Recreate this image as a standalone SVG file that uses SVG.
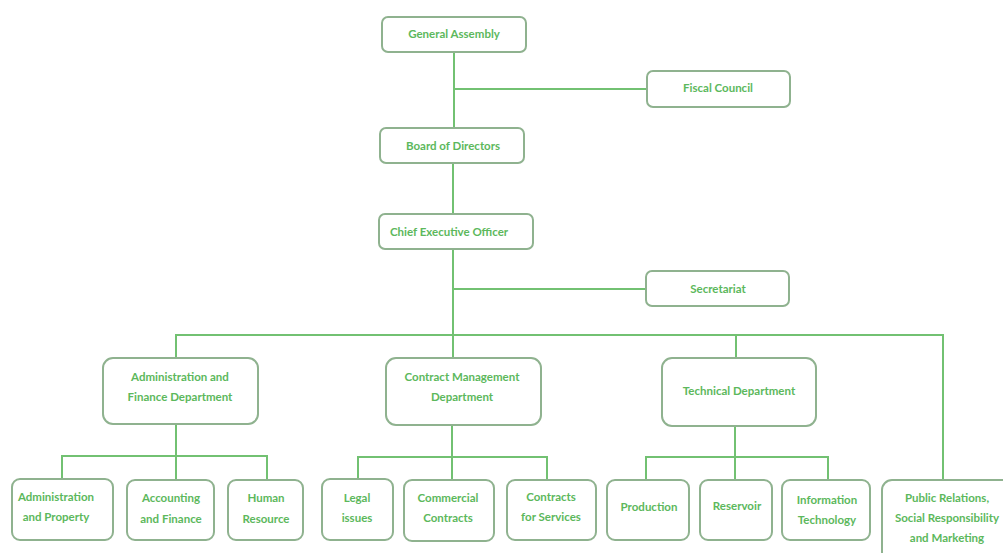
<svg xmlns="http://www.w3.org/2000/svg" width="1003" height="553" viewBox="0 0 1003 553">
<style>
.box{fill:#ffffff;stroke:#8fb28f;stroke-width:2}
.ln{fill:none;stroke:#72c172;stroke-width:2}
text{font-family:Lato,"Liberation Sans",sans-serif;font-weight:bold;font-size:11.5px;fill:#5cb85c;text-anchor:middle}
</style>
<rect width="1003" height="553" fill="#ffffff"/>
<g id="connectors">
<path class="ln" d="M454 52V128M454 89H647"/>
<path class="ln" d="M453 163V214"/>
<path class="ln" d="M453 249V358M453 289H646"/>
<path class="ln" d="M176 358V335H943V480M736 335V358"/>
<path class="ln" d="M176 424V456M62 479V456H267V480M176 456V480"/>
<path class="ln" d="M452 425V457M358 479V457H547V480M452 457V480"/>
<path class="ln" d="M735 426V457M646 480V457H828V480M735 457V480"/>
</g>
<g id="general-assembly"><rect class="box" x="382" y="17" width="144" height="35" rx="6"/><text x="454" y="38">General Assembly</text></g>
<g id="fiscal-council"><rect class="box" x="647" y="71" width="143" height="36" rx="6"/><text x="718" y="92">Fiscal Council</text></g>
<g id="board-of-directors"><rect class="box" x="380" y="128" width="144" height="35" rx="6"/><text x="453" y="150">Board of Directors</text></g>
<g id="ceo"><rect class="box" x="379" y="214" width="154" height="35" rx="6"/><text x="449" y="236">Chief Executive Officer</text></g>
<g id="secretariat"><rect class="box" x="646" y="271" width="143" height="35" rx="6"/><text x="718" y="293">Secretariat</text></g>
<g id="admin-finance-dept"><rect class="box" x="103" y="358" width="155" height="66" rx="10"/><text x="180" y="381">Administration and</text><text x="180" y="401">Finance Department</text></g>
<g id="contract-mgmt-dept"><rect class="box" x="386" y="358" width="155" height="67" rx="10"/><text x="462" y="381">Contract Management</text><text x="462" y="401">Department</text></g>
<g id="technical-dept"><rect class="box" x="662" y="358" width="154" height="68" rx="10"/><text x="739" y="395">Technical Department</text></g>
<g id="admin-property"><rect class="box" x="12" y="479" width="101" height="61" rx="8"/><text x="56" y="501">Administration</text><text x="56" y="521">and Property</text></g>
<g id="accounting-finance"><rect class="box" x="127" y="480" width="87" height="60" rx="8"/><text x="171" y="502">Accounting</text><text x="171" y="523">and Finance</text></g>
<g id="human-resource"><rect class="box" x="228" y="480" width="75" height="60" rx="8"/><text x="266" y="502">Human</text><text x="266" y="523">Resource</text></g>
<g id="legal-issues"><rect class="box" x="322" y="479" width="71" height="61" rx="8"/><text x="357" y="502">Legal</text><text x="357" y="522">issues</text></g>
<g id="commercial-contracts"><rect class="box" x="404" y="480" width="90" height="61" rx="8"/><text x="448" y="502">Commercial</text><text x="448" y="522">Contracts</text></g>
<g id="contracts-services"><rect class="box" x="507" y="480" width="89" height="60" rx="8"/><text x="551" y="501">Contracts</text><text x="551" y="521">for Services</text></g>
<g id="production"><rect class="box" x="607" y="480" width="82" height="60" rx="8"/><text x="649" y="511">Production</text></g>
<g id="reservoir"><rect class="box" x="700" y="480" width="72" height="60" rx="8"/><text x="737" y="510">Reservoir</text></g>
<g id="information-technology"><rect class="box" x="782" y="480" width="88" height="60" rx="8"/><text x="827" y="504">Information</text><text x="827" y="524">Technology</text></g>
<g id="public-relations"><rect class="box" x="882" y="480" width="130" height="90" rx="10"/><text x="947" y="502">Public Relations,</text><text x="947" y="522">Social Responsibility</text><text x="947" y="542">and Marketing</text></g>
</svg>
